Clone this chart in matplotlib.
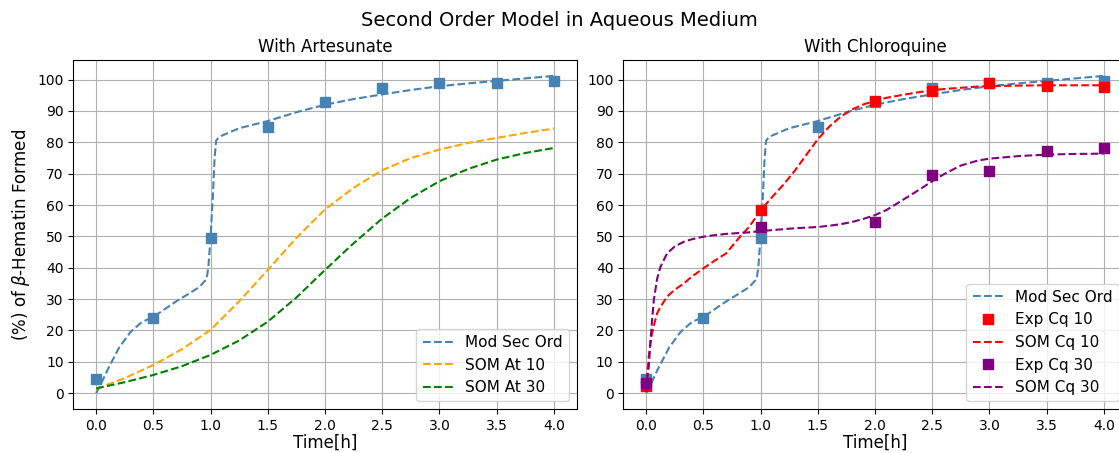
import matplotlib
matplotlib.use('Agg')
import matplotlib.pyplot as plt

# experimental points (steelblue, shown in both panels)
t_exp = [0.0, 0.5, 1.0, 1.5, 2.0, 2.5, 3.0, 3.5, 4.0]
y_exp = [4.5, 24.1, 49.5, 85.0, 93.0, 97.2, 99.0, 98.8, 99.5]

# second order model curve
t_mod = [0.0, 0.03, 0.1, 0.2, 0.3, 0.4, 0.5, 0.6, 0.7, 0.8, 0.9, 0.965,
         0.98, 1.0, 1.02, 1.035, 1.048, 1.065, 1.083, 1.25, 1.5, 1.75,
         2.0, 2.25, 2.5, 2.75, 3.0, 3.25, 3.5, 3.75, 4.0]
y_mod = [0.0, 2.0, 7.5, 14.5, 19.5, 22.7, 24.3, 26.8, 29.3, 31.5, 33.8, 36.4,
         40.0, 50.0, 63.0, 75.0, 80.5, 81.3, 81.9, 84.5, 86.8, 89.6,
         92.0, 93.8, 95.3, 96.7, 97.9, 98.8, 99.6, 100.4, 101.2]

# SOM curves, artesunate
t_som = [0.0, 0.25, 0.5, 0.75, 1.0, 1.25, 1.5, 1.75, 2.0, 2.25, 2.5, 2.75,
         3.0, 3.25, 3.5, 3.75, 4.0]
y_at10 = [1.3, 4.8, 9.0, 14.0, 20.2, 29.3, 39.3, 49.5, 58.6, 65.5, 71.1, 75.0,
          77.7, 79.8, 81.4, 83.0, 84.4]
y_at30 = [1.5, 3.5, 5.8, 8.6, 12.2, 16.8, 22.8, 30.5, 39.3, 47.8, 55.7, 62.3,
          67.6, 71.5, 74.5, 76.6, 78.2]

# chloroquine experimental
t_cq = [0.0, 1.0, 2.0, 2.5, 3.0, 3.5, 4.0]
y_cq10 = [2.2, 58.3, 93.1, 96.5, 99.0, 98.1, 97.7]
y_cq30 = [3.1, 52.9, 54.6, 69.5, 70.9, 77.1, 78.2]

# chloroquine SOM curves
t_cqm = [0.0, 0.01, 0.023, 0.038, 0.052, 0.067, 0.096, 0.125, 0.183, 0.25,
         0.33, 0.4, 0.5, 0.6, 0.7, 0.82, 0.9, 1.0, 1.1, 1.2, 1.3, 1.4, 1.5,
         1.6, 1.7, 1.8, 1.9, 2.0, 2.1, 2.25, 2.4, 2.5, 2.6, 2.75, 2.9, 3.0,
         3.25, 3.5, 3.75, 4.0]
y_cqm10 = [0.5, 6.0, 11.7, 16.0, 19.1, 21.5, 25.5, 27.5, 30.8, 33.0,
           35.0, 37.2, 39.8, 42.3, 44.6, 49.9, 53.0, 58.3, 62.5, 66.5, 71.0, 76.0, 81.0,
           85.0, 88.2, 90.5, 92.1, 93.3, 94.2, 95.2, 96.1, 96.6, 97.0, 97.4, 97.8, 97.9,
           98.1, 98.2, 98.2, 98.2]
y_cqm30 = [0.5, 5.0, 8.5, 17.0, 23.5, 29.7, 36.5, 40.3, 44.6, 46.8,
           48.3, 49.1, 49.9, 50.4, 50.8, 51.1, 51.3, 51.7, 52.0, 52.3, 52.6, 52.8, 53.0,
           53.4, 53.9, 54.6, 55.6, 56.8, 58.4, 61.8, 65.2, 67.6, 69.8, 72.6, 74.2, 74.8,
           75.6, 76.1, 76.3, 76.4]

fig = plt.figure(figsize=(11.19, 4.53), dpi=100)
ax1 = fig.add_axes([0.0655, 0.0971, 0.4499, 0.7704])
ax2 = fig.add_axes([0.557, 0.0971, 0.4499, 0.7704])

fig.suptitle('Second Order Model in Aqueous Medium', fontsize=14, y=0.975)

ax1.plot(t_exp, y_exp, 's', color='steelblue', markersize=6.5)
ax1.plot(t_mod, y_mod, '--', color='steelblue', label='Mod Sec Ord')
ax1.plot(t_som, y_at10, '--', color='orange', label='SOM At 10')
ax1.plot(t_som, y_at30, '--', color='green', label='SOM At 30')
ax1.set_title('With Artesunate', fontsize=12)
ax1.set_ylabel(r'(%) of $\beta$-Hematin Formed', fontsize=12)

ax2.plot(t_exp, y_exp, 's', color='steelblue', markersize=6.5)
ax2.plot(t_mod, y_mod, '--', color='steelblue', label='Mod Sec Ord')
ax2.plot(t_cq, y_cq10, 's', color='red', markersize=6.5, label='Exp Cq 10')
ax2.plot(t_cqm, y_cqm10, '--', color='red', label='SOM Cq 10')
ax2.plot(t_cq, y_cq30, 's', color='purple', markersize=6.5, label='Exp Cq 30')
ax2.plot(t_cqm, y_cqm30, '--', color='purple', label='SOM Cq 30')
ax2.set_title('With Chloroquine', fontsize=12)

for ax in (ax1, ax2):
    ax.set_xlabel('Time[h]', fontsize=12, labelpad=1)
    ax.set_yticks(range(0, 101, 10))
    ax.set_xticks([0, 0.5, 1, 1.5, 2, 2.5, 3, 3.5, 4])
    ax.tick_params(labelsize=10)
    ax.grid(True)
    ax.legend(loc='lower right', fontsize=11)

fig.savefig('out.png', dpi=100)
